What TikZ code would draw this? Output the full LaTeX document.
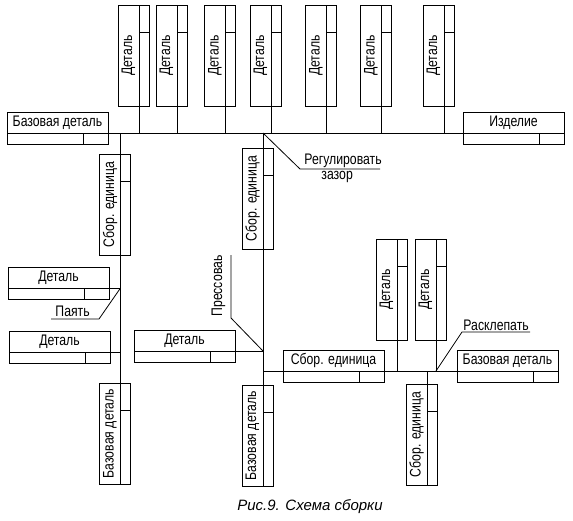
\documentclass[tikz,border=0pt]{standalone}
\usepackage{fontspec}
\setmainfont{Liberation Sans}[FakeStretch=0.8]
\newfontfamily\capfont{Liberation Sans}
\usetikzlibrary{calc}

\tikzset{
  lbl/.style={inner sep=0pt, font=\fontsize{15.3}{16}\selectfont},
  %horizontal part box
  hpart/.pic={
    \draw (0,0) rectangle (101,32);
    \draw (0,21) -- (101,21);
    \draw (76,21) -- (76,32);
    \node[lbl] (-t) at (50.5,10.5) {#1};
    \coordinate (-w) at (0,21);
    \coordinate (-e) at (101,21);
  },
  %vertical part box
  vpart/.pic={
    \draw (0,0) rectangle (31,101);
    \draw (21,0) -- (21,101);
    \draw (21,27) -- (31,27);
    \node[lbl,rotate=90] (-t) at (10.5,50.5) {#1};
    \coordinate (-n) at (21,0);
    \coordinate (-s) at (21,101);
  },
}

\begin{document}
\begin{tikzpicture}[x=1pt,y=-1pt,line width=0.9pt]
\useasboundingbox (0,0) rectangle (573,520);

% Top row
\pic (b1) at (7,112) {hpart=Базовая деталь};
\pic (iz) at (463,112) {hpart=Изделие};
\foreach \x [count=\i] in {118,156,204.5,250,305.5,360.5,423}
  \pic (d\i) at (\x,5) {vpart=Деталь};

% Left branch
\pic (s1) at (99.5,154) {vpart=Сбор. единица};
\pic (d8) at (8,267) {hpart=Деталь};
\pic (d9) at (9,331) {hpart=Деталь};
\pic (b2) at (99.5,383) {vpart=Базовая деталь};

% Middle branch
\pic (s2) at (242,148) {vpart=Сбор. единица};
\pic (d10) at (134,330) {hpart=Деталь};
\pic (b3) at (242,385) {vpart=Базовая деталь};

% Right branch
\pic (s3) at (283,350) {hpart=Сбор. единица};
\pic (b4) at (457,350) {hpart=Базовая деталь};
\pic (d11) at (376,239) {vpart=Деталь};
\pic (d12) at (415,239) {vpart=Деталь};
\pic (s4) at (406,384) {vpart=Сбор. единица};

%Straight Lines
\draw (b1-e) -- (iz-w);
\foreach \i in {1,...,7}
  \draw (d\i-s) -- (d\i-s |- b1-e);
\draw (b2-n |- b1-e) -- (b2-n);
\draw (d8-e) -- (d8-e -| b2-n);
\draw (d9-e) -- (d9-e -| b2-n);
\draw (b3-n |- b1-e) -- (b3-n);
\draw (d10-e) -- (d10-e -| b3-n);
\draw (s3-w -| b3-n) -- (s3-w);
\draw (s3-e) -- (b4-w);
\draw (d11-s) -- (d11-s |- s3-e);
\draw (d12-s) -- (d12-s |- s3-e);
\draw (s4-n |- s3-e) -- (s4-n);

%Leader lines
\coordinate (rg1) at (300,169);
\coordinate (rg2) at (380,169);
\draw[line width=0.8pt] (b3-n |- b1-e) -- (rg1) -- (rg2);
\coordinate (pj1) at (99,319);
\coordinate (pj2) at (51,319);
\draw[line width=0.8pt] (d8-e -| b2-n) -- (pj1) -- (pj2);
\coordinate (pr1) at (231,318);
\coordinate (pr2) at (231,255);
\draw[line width=0.8pt] (d10-e -| b3-n) -- (pr1) -- (pr2);
\coordinate (rk1) at (462,332);
\coordinate (rk2) at (530,332);
\draw[line width=0.8pt] (d12-s |- s3-e) -- (rk1) -- (rk2);

% Text Node
\node[lbl,anchor=base west] (treg) at (304,164) {Регулировать};
\node[lbl,anchor=base west] (tzaz) at (321,179) {зазор};
\node[lbl,anchor=base west] (tpay) at (55,316) {Паять};
\node[lbl,anchor=base west,rotate=90] (tpre) at (222,317) {Прессоваь};
\node[lbl,anchor=base west] (trak) at (463,330) {Расклепать};
\node[inner sep=0pt,font=\capfont\itshape\fontsize{15}{16}\selectfont] (tcap) at (310,507) {Рис.9. Схема сборки};

\end{tikzpicture}
\end{document}
